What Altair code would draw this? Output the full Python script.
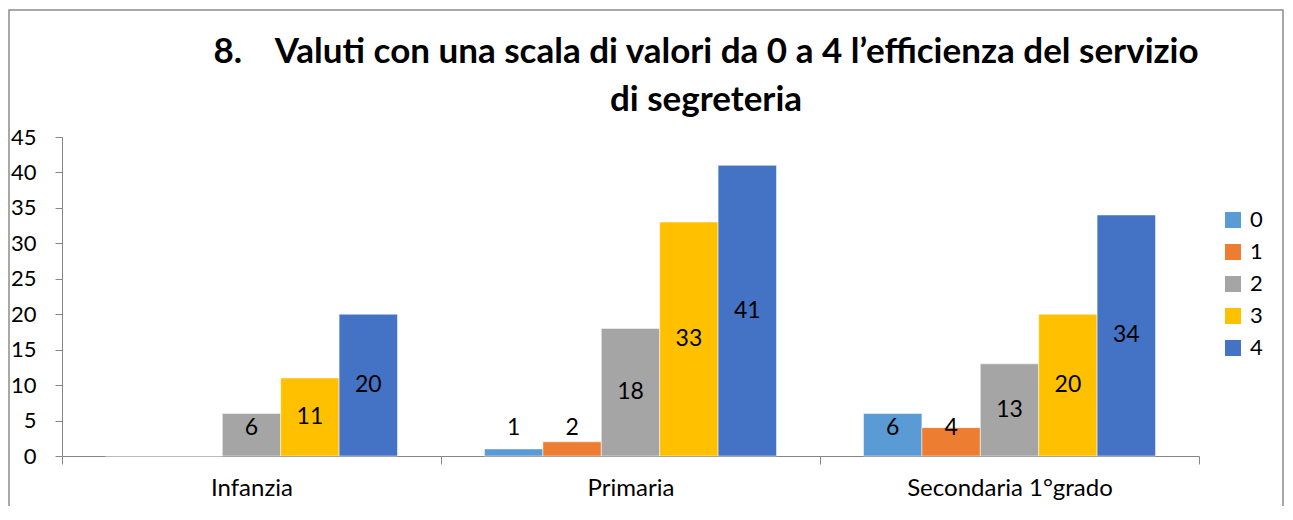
import altair as alt
import pandas as pd

categories = ["Infanzia", "Primaria", "Secondaria 1°grado"]
series = ["0", "1", "2", "3", "4"]
v0 = [0, 1, 6]
v1 = [0, 2, 4]
v2 = [6, 18, 13]
v3 = [11, 33, 20]
v4 = [20, 41, 34]
colors = ["#5B9BD5", "#ED7D31", "#A5A5A5", "#FFC000", "#4472C4"]
title_line1 = "8.\u00a0\u00a0\u00a0\u00a0Valuti con una scala di valori da 0 a 4 l\u2019efficienza del servizio"
title_line2 = "di segreteria"

rows = []
for s, vals in zip(series, [v0, v1, v2, v3, v4]):
    for c, v in zip(categories, vals):
        rows.append({"cat": c, "s": s, "v": v})
df = pd.DataFrame(rows)

W, H = 1137, 319
FONT = "Lato"
AX = "#868686"

x = alt.X("cat:N", sort=categories, title=None,
          scale=alt.Scale(paddingInner=0, paddingOuter=0),
          axis=alt.Axis(labelAngle=0, labelFontSize=24, labelColor="black", labelFont=FONT,
                        labelLimit=0, tickBand="extent", tickSize=8, domainColor=AX,
                        tickColor=AX, labelPadding=12))
xo = alt.XOffset("s:N", sort=series, scale=alt.Scale(paddingInner=0, paddingOuter=0.745))
y_scale = alt.Scale(domain=[0, 45], nice=False)
y_axis = alt.Axis(values=list(range(0, 46, 5)), grid=False, tickSize=7, labelOverlap=False,
                  labelPadding=19, labelFontSize=22, labelColor="black", labelFont=FONT,
                  domainColor=AX, tickColor=AX)

base = alt.Chart(df)
bars = base.mark_bar(stroke="white", strokeWidth=1, strokeOpacity=0.5).encode(
    x=x, xOffset=xo, y=alt.Y("v:Q", scale=y_scale, title=None, axis=y_axis),
    color=alt.Color("s:N", sort=series, scale=alt.Scale(domain=series, range=colors),
                    legend=alt.Legend(title=None, orient="none", legendX=1160, legendY=72,
                                      symbolType="square", symbolSize=256, symbolStrokeWidth=0,
                                      labelFontSize=22, labelFont=FONT, labelColor="black",
                                      rowPadding=10, labelOffset=6)))
labels = base.transform_filter("datum.v > 0").transform_calculate(
    ly="max(datum.v / 2, 4)").mark_text(fontSize=23, color="black", font=FONT,
                                          baseline="middle").encode(
    x=x, xOffset=xo, y=alt.Y("ly:Q", scale=y_scale, title=None, axis=y_axis), text="v:Q")

one = pd.DataFrame({"a": [0]})
t1 = alt.Chart(one).mark_text(text=title_line1, fontSize=35, font=FONT, fontWeight="bold",
                              color="black", baseline="middle").encode(
    x=alt.value(644), y=alt.value(-85))
t2 = alt.Chart(one).mark_text(text=title_line2, fontSize=35, font=FONT, fontWeight="bold",
                              color="black", baseline="middle").encode(
    x=alt.value(644), y=alt.value(-37))

border = alt.Chart(one).mark_rect(
    fillOpacity=0, stroke="#8c8c8c", strokeWidth=1.5).encode(
    x=alt.value(-53), x2=alt.value(1221), y=alt.value(-127), y2=alt.value(400))

chart = alt.layer(border, bars, labels, t1, t2).properties(
    width=W, height=H,
    autosize="none",
    padding={"left": 54, "top": 129, "right": 86, "bottom": 50},
).configure_view(stroke=None)

chart.save("out.html", embed_options={"renderer": "svg", "actions": False})
